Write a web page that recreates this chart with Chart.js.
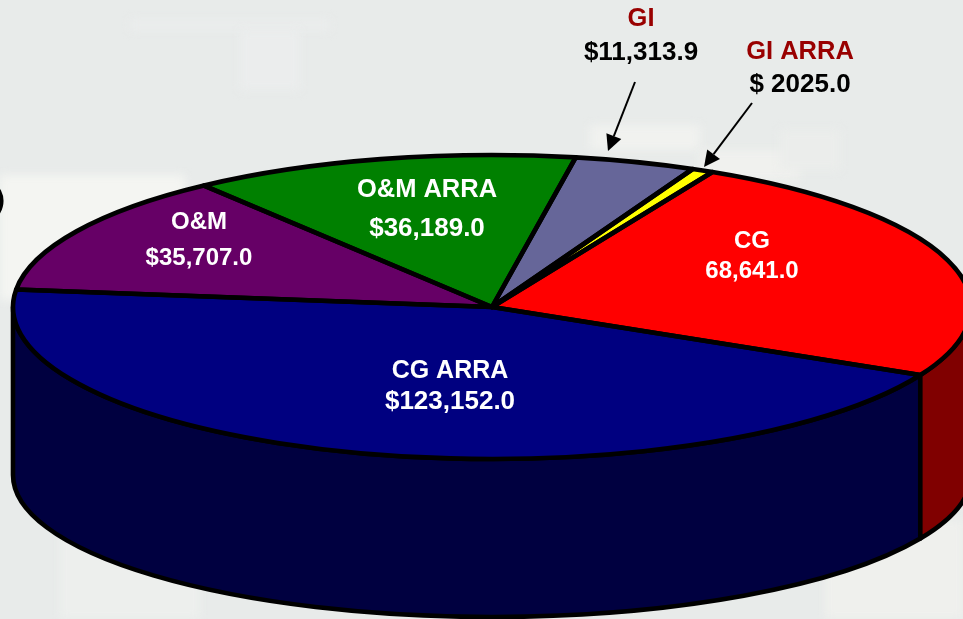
<!DOCTYPE html>
<html><head><meta charset="utf-8">
<style>html,body{margin:0;padding:0;background:#e8ebea;overflow:hidden}canvas{display:block}</style>
<script src="https://cdn.jsdelivr.net/npm/chart.js@4"></script></head>
<body><canvas id="c" width="963" height="619"></canvas>
<script>
const categories = ['CG ARRA','O&M','O&M ARRA','GI','GI ARRA','CG'];
const values = [123152.0,35707.0,36189.0,11313.9,2025.0,68641.0];
const topColors = ['#000080','#660066','#008000','#666699','#ffff00','#ff0000'];
const wallColors = ['#000040','#330033','#004000','#333366','#808000','#800000'];
const startRotation = 116.6;
// projection of the round pie on to the tilted disc
const TOP = {cx:492, cy:307, rx:479, ry:152};
const BOTTOM = {cx:492, cy:475, rx:479, ry:142};
const LINE = 4.6;
// text: [text, x, y, size, colour]
const labels = [
 ['GI',641,19,25.5,'#990000'],['$11,313.9',641,53,26,'#000'],
 ['GI ARRA',800,52,25.5,'#990000'],['$ 2025.0',800,85,26,'#000'],
 ['O&M ARRA',427,190,25.5,'#fff'],['$36,189.0',427,229,26,'#fff'],
 ['O&M',199,222,24,'#fff'],['$35,707.0',199,258,24,'#fff'],
 ['CG ARRA',450,371,25,'#fff'],['$123,152.0',450,402,26,'#fff'],
 ['CG',752,241,24,'#fff'],['68,641.0',752,271,24,'#fff']
];
const arrows = [[635,82,608,151],[752,103,704,167]];
const patches = [[0,175,185,125,'#f4f5f2'],[60,530,140,89,'#edefed'],[590,125,110,25,'#f1f2ef'],
 [825,520,138,99,'#eff0ed'],[700,150,100,30,'#f0f1ee'],[130,20,200,10,'#ebeded'],[240,30,60,60,'#ebeded'],
 [780,130,60,40,'#ebedeb']];

function projected(ctx, el, fn){
  const k = el.outerRadius;
  ctx.save();
  ctx.translate(TOP.cx, TOP.cy);
  ctx.scale(TOP.rx/k, TOP.ry/k);
  ctx.translate(-el.x, -el.y);
  fn();
  ctx.restore();
}
const pie3d = {
  id:'pie3d',
  beforeDraw(chart){
    const ctx = chart.ctx;
    ctx.save();
    ctx.fillStyle = '#e8ebea';
    ctx.fillRect(0,0,chart.width,chart.height);
    ctx.filter = 'blur(5px)';
    patches.forEach(p=>{ctx.fillStyle=p[4];ctx.fillRect(p[0],p[1],p[2],p[3]);});
    ctx.restore();
  },
  beforeDatasetsDraw(chart){
    const ctx = chart.ctx, els = chart.getDatasetMeta(0).data;
    const norm = a => { a %= 2*Math.PI; return a<0?a+2*Math.PI:a; };
    ctx.save();
    ctx.lineWidth = LINE; ctx.lineJoin='round'; ctx.strokeStyle='#000';
    // walls: only the front half (0..PI) of each slice is seen
    els.forEach((el,i)=>{
      let parts=[], a=norm(el.startAngle), b=a+(el.endAngle-el.startAngle);
      if(a<Math.PI) parts.push([a,Math.min(b,Math.PI)]);
      if(b>2*Math.PI) parts.push([0,Math.min(b-2*Math.PI,Math.PI)]);
      parts.forEach(([s,e])=>{
        ctx.beginPath();
        ctx.ellipse(TOP.cx,TOP.cy,TOP.rx,TOP.ry,0,s,e,false);
        ctx.ellipse(BOTTOM.cx,BOTTOM.cy,BOTTOM.rx,BOTTOM.ry,0,e,s,true);
        ctx.closePath();
        ctx.fillStyle = wallColors[i];
        ctx.fill(); ctx.stroke();
      });
    });
    ctx.restore();
    // stray letter edge at the left border
    ctx.save();
    ctx.beginPath(); ctx.ellipse(-16,201,17,19,0,-1.3,1.3); ctx.lineWidth=5; ctx.strokeStyle='#000'; ctx.stroke();
    ctx.restore();
    // slices themselves drawn by the library under the projection
    const el0 = els[0], k = el0.outerRadius;
    ctx.save();
    ctx.translate(TOP.cx, TOP.cy);
    ctx.scale(TOP.rx/k, TOP.ry/k);
    ctx.translate(-el0.x, -el0.y);
  },
  afterDatasetsDraw(chart){
    const ctx = chart.ctx, els = chart.getDatasetMeta(0).data;
    ctx.restore();
    ctx.save();
    ctx.lineWidth = LINE; ctx.lineJoin='round'; ctx.strokeStyle='#000';
    els.forEach(el=>{
      ctx.beginPath();
      projected(ctx, el, ()=>{
        ctx.moveTo(el.x,el.y);
        ctx.arc(el.x,el.y,el.outerRadius,el.startAngle,el.endAngle);
        ctx.closePath();
      });
      ctx.stroke();
    });
    // arrows
    arrows.forEach(([x0,y0,x1,y1])=>{
      const a=Math.atan2(y1-y0,x1-x0), L=16, W=8;
      const bx=x1-L*Math.cos(a), by=y1-L*Math.sin(a);
      ctx.lineWidth=2; ctx.beginPath(); ctx.moveTo(x0,y0); ctx.lineTo(bx,by); ctx.stroke();
      ctx.fillStyle='#000'; ctx.beginPath(); ctx.moveTo(x1,y1);
      ctx.lineTo(bx+W*Math.sin(a),by-W*Math.cos(a)); ctx.lineTo(bx-W*Math.sin(a),by+W*Math.cos(a));
      ctx.closePath(); ctx.fill();
    });
    ctx.textAlign='center'; ctx.textBaseline='middle';
    labels.forEach(([t,x,y,s,c])=>{
      ctx.font='bold '+s+'px "Liberation Sans", Arial, sans-serif';
      ctx.fillStyle=c; ctx.fillText(t,x,y);
    });
    ctx.restore();
  }
};
new Chart(document.getElementById('c'),{
  type:'pie',
  data:{labels:categories,datasets:[{data:values,backgroundColor:topColors,borderWidth:0,clip:false}]},
  options:{responsive:false,animation:false,rotation:startRotation,
    layout:{padding:0},
    plugins:{legend:{display:false},tooltip:{enabled:false}}},
  plugins:[pie3d]
});
</script></body></html>
